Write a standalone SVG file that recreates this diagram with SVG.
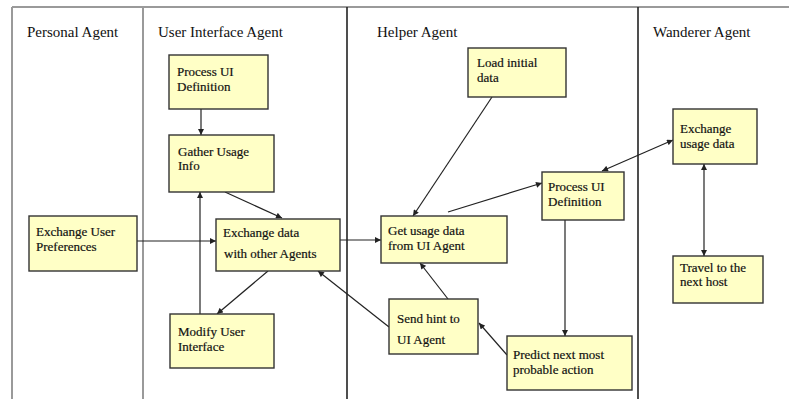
<svg xmlns="http://www.w3.org/2000/svg" width="789" height="399" viewBox="0 0 789 399">
<style>
.lane-gray{stroke:#9a9a9a;stroke-width:2;fill:none}
.lane-dark{stroke:#222;stroke-width:1.6;fill:none}
.hdr{font-family:"Liberation Serif","Times New Roman",serif;font-size:15px;fill:#111}
.box rect{fill:#ffffc6;stroke:#333;stroke-width:1.4}
.box text{font-family:"Liberation Serif","Times New Roman",serif;font-size:13px;fill:#111;stroke:#111;stroke-width:0.2}
.conn line{stroke:#222;stroke-width:1.2;fill:none}
</style>
<defs>
<marker id="ah" viewBox="0 0 10 10" refX="10" refY="5" markerWidth="7" markerHeight="6" markerUnits="userSpaceOnUse" orient="auto-start-reverse">
<path d="M0,0 L10,5 L0,10 z" fill="#222"/>
</marker>
</defs>
<rect width="789" height="399" fill="#fff"/>
<g id="lanes">
<line class="lane-gray" x1="12" y1="7" x2="789" y2="7"/>
<line class="lane-gray" x1="12" y1="7" x2="12" y2="399"/>
<line class="lane-gray" x1="143" y1="7" x2="143" y2="399"/>
<line class="lane-dark" x1="347" y1="7" x2="347" y2="399"/>
<line class="lane-dark" x1="638" y1="7" x2="638" y2="399"/>
<text class="hdr" x="27" y="37">Personal Agent</text>
<text class="hdr" x="158" y="37">User Interface Agent</text>
<text class="hdr" x="377" y="37">Helper Agent</text>
<text class="hdr" x="653" y="37">Wanderer Agent</text>
</g>
<g class="conn" id="connectors">
<line x1="201" y1="109" x2="201" y2="135" marker-end="url(#ah)"/>
<line x1="225" y1="192" x2="282" y2="218" marker-end="url(#ah)"/>
<line x1="200" y1="314" x2="200" y2="192" marker-end="url(#ah)"/>
<line x1="268" y1="271" x2="217" y2="314" marker-end="url(#ah)"/>
<line x1="137" y1="241" x2="216" y2="241" marker-end="url(#ah)"/>
<line x1="340" y1="240" x2="381" y2="240" marker-end="url(#ah)"/>
<line x1="389" y1="327" x2="318" y2="271" marker-end="url(#ah)"/>
<line x1="448" y1="299" x2="420" y2="263" marker-end="url(#ah)"/>
<line x1="507" y1="355" x2="479" y2="323" marker-end="url(#ah)"/>
<line x1="492" y1="97" x2="413" y2="216" marker-end="url(#ah)"/>
<line x1="448" y1="212" x2="542" y2="183" marker-end="url(#ah)"/>
<line x1="602" y1="171" x2="673" y2="140" marker-start="url(#ah)" marker-end="url(#ah)"/>
<line x1="565" y1="220" x2="565" y2="336" marker-end="url(#ah)"/>
<line x1="704" y1="164" x2="704" y2="256" marker-start="url(#ah)" marker-end="url(#ah)"/>
</g>
<g class="box" id="ui-process-def">
<rect x="169" y="55" width="99" height="54"/>
<text x="177" y="76">Process UI<tspan x="177" dy="14.5">Definition</tspan></text>
</g>
<g class="box" id="gather-usage">
<rect x="169" y="135" width="105" height="57"/>
<text x="178" y="155.5">Gather Usage<tspan x="178" dy="14.5">Info</tspan></text>
</g>
<g class="box" id="exchange-user-prefs">
<rect x="29" y="216" width="108" height="55"/>
<text x="36" y="236">Exchange User<tspan x="36" dy="14.5">Preferences</tspan></text>
</g>
<g class="box" id="exchange-data">
<rect x="216" y="219" width="124" height="52"/>
<text x="223" y="237">Exchange data<tspan x="224" dy="21">with other Agents</tspan></text>
</g>
<g class="box" id="modify-ui">
<rect x="170" y="314" width="104" height="54"/>
<text x="178" y="336">Modify User<tspan x="178" dy="14.5">Interface</tspan></text>
</g>
<g class="box" id="load-initial">
<rect x="468" y="48" width="98" height="49"/>
<text x="477" y="67">Load initial<tspan x="477" dy="14.5">data</tspan></text>
</g>
<g class="box" id="get-usage">
<rect x="381" y="216" width="126" height="47"/>
<text x="388" y="235">Get usage data<tspan x="388" dy="14.5">from UI Agent</tspan></text>
</g>
<g class="box" id="helper-process-def">
<rect x="542" y="172" width="82" height="48"/>
<text x="548" y="191">Process UI<tspan x="548" dy="14.5">Definition</tspan></text>
</g>
<g class="box" id="send-hint">
<rect x="389" y="299" width="89" height="55"/>
<text x="397" y="323">Send hint to<tspan x="397" dy="21">UI Agent</tspan></text>
</g>
<g class="box" id="predict">
<rect x="507" y="336" width="125" height="54"/>
<text x="513" y="359">Predict next most<tspan x="513" dy="14.5">probable action</tspan></text>
</g>
<g class="box" id="exchange-usage">
<rect x="673" y="109" width="84" height="55"/>
<text x="680" y="133">Exchange<tspan x="680" dy="14.5">usage data</tspan></text>
</g>
<g class="box" id="travel">
<rect x="673" y="256" width="90" height="47"/>
<text x="680" y="271.5">Travel to the<tspan x="680" dy="14.5">next host</tspan></text>
</g>
</svg>
